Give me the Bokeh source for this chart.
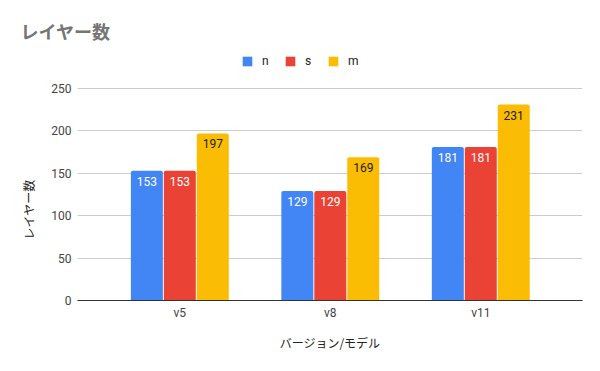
from bokeh.plotting import figure
from bokeh.models import ColumnDataSource, FixedTicker, Legend, LegendItem, Range1d, Title
from bokeh.embed import file_html
from bokeh.resources import INLINE

categories = ["v5", "v8", "v11"]
series_names = ["n", "s", "m"]
n_values = [153, 129, 181]
s_values = [153, 129, 181]
m_values = [197, 169, 231]
y_ticks = [0, 50, 100, 150, 200, 250]
title_text = "レイヤー数"
x_label = "バージョン/モデル"
y_label = "レイヤー数"

colors = ["#4285F4", "#EA4335", "#FBBC04"]
label_colors = ["#ffffff", "#ffffff", "#222222"]
offsets = [-0.219, 0.0, 0.219]
bar_w = 0.2126

# frame spans 50..300 px; values 0..250 occupy the lower 212 px
y_top = 250 * 250 / 212

p = figure(width=584, height=355, output_backend="svg", toolbar_location=None,
           x_range=Range1d(-0.680, 2.676), y_range=Range1d(0, y_top),
           min_border_left=77, min_border_right=2, min_border_top=50, min_border_bottom=55)
p.outline_line_color = None

p.title.text = title_text
p.title.text_font = "Noto Sans CJK JP"
p.title.text_font_size = "18px"
p.title.text_font_style = "bold"
p.title.text_color = "#757575"
p.title.align = "left"
p.title.offset = -57
p.title.standoff = 13

xs = list(range(len(categories)))
items = []
for k, (name, vals) in enumerate(zip(series_names, [n_values, s_values, m_values])):
    src = ColumnDataSource(dict(x=[x + offsets[k] for x in xs], top=vals,
                                lab=[str(v) for v in vals]))
    r = p.vbar(x="x", top="top", width=bar_w, bottom=0, source=src,
               fill_color=colors[k], line_color=None, border_radius=(2, 2, 0, 0))
    p.text(x="x", y="top", text="lab", source=src, text_align="center",
           text_baseline="top", y_offset=6, text_font_size="12px",
           text_font={"value": "Roboto"}, text_color=label_colors[k])
    items.append(LegendItem(label=name, renderers=[r]))

legend = Legend(items=items, orientation="horizontal", location=(164, 232),
                padding=0, margin=0, spacing=13, label_standoff=9,
                glyph_width=12, glyph_height=12, label_width=9, label_height=12,
                label_text_font="Roboto", label_text_font_size="12px",
                label_text_color="#222222", border_line_color=None,
                background_fill_alpha=0)
p.add_layout(legend, "center")

p.xaxis.ticker = FixedTicker(ticks=xs)
p.xaxis.major_label_overrides = {i: c for i, c in enumerate(categories)}
p.xaxis.axis_line_color = "#333333"
p.xaxis.major_label_standoff = 5
p.xaxis.axis_label = x_label
p.xaxis.axis_label_standoff = 11

p.yaxis.ticker = FixedTicker(ticks=y_ticks)
p.yaxis.axis_line_color = None
p.yaxis.major_label_standoff = 6

for ax in [p.xaxis[0], p.yaxis[0]]:
    ax.major_tick_line_color = None
    ax.minor_tick_line_color = None
    ax.major_tick_out = 0
    ax.major_tick_in = 0
    ax.minor_tick_out = 0
    ax.minor_tick_in = 0
    ax.major_label_text_font = "Roboto"
    ax.major_label_text_font_size = "12px"
    ax.major_label_text_color = "#444444"
    ax.axis_label_text_font = "Noto Sans CJK JP"
    ax.axis_label_text_font_size = "12px"
    ax.axis_label_text_font_style = "normal"
    ax.axis_label_text_color = "#222222"

# y-axis title, placed along the value region (0..250)
p.add_layout(Title(text=y_label, align="left", offset=61, standoff=24,
                   text_font="Noto Sans CJK JP", text_font_size="12px",
                   text_font_style="normal", text_color="#222222"), "left")

p.xgrid.grid_line_color = None
p.ygrid.ticker = FixedTicker(ticks=y_ticks)
p.ygrid.grid_line_color = "#cccccc"

open("out.html", "w").write(file_html(p, INLINE))
